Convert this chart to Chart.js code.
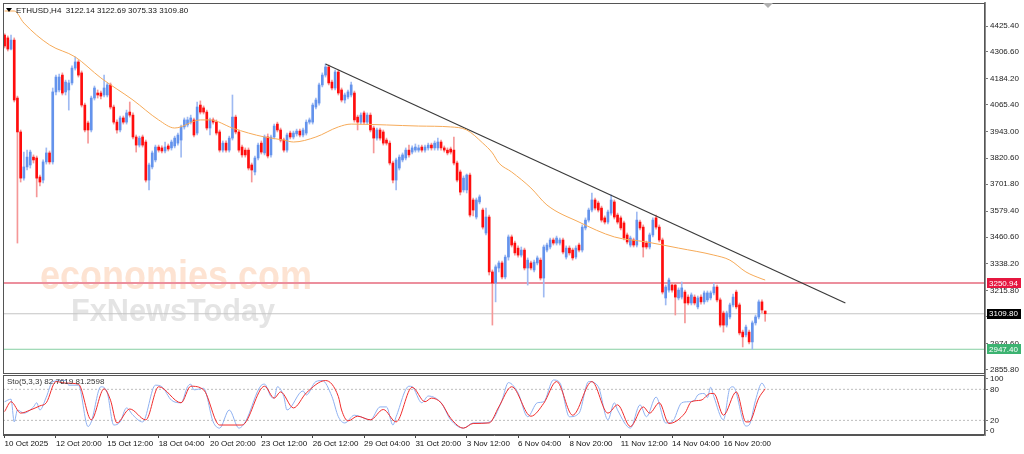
<!DOCTYPE html>
<html>
<head>
<meta charset="utf-8">
<script src="https://cdn.jsdelivr.net/npm/chart.js@4.4.1/dist/chart.umd.min.js"></script>
<style>
  html, body { margin: 0; padding: 0; background: #fff; }
  #wrap { position: relative; width: 1024px; height: 454px; overflow: hidden; background: #fff; }
  #c1 { position: absolute; left: 0; top: 0; }
  #c2 { position: absolute; left: 0; top: 373px; }
</style>
</head>
<body>
<div id="wrap">
  <canvas id="c1" width="1024" height="375"></canvas>
  <canvas id="c2" width="1024" height="81"></canvas>
</div>
<script>
// ETHUSD H4 candles (oldest first)
const opens = [
  4384,4371,4320,4361,4096,3941,3730,3781,3790,3826,
  3822,3735,3721,3804,3845,3804,4124,4133,4201,4124,
  4133,4165,4233,4261,4211,4064,3982,3950,4096,4119,
  4119,4110,4110,4156,4055,3986,3950,4005,3986,4032,
  4018,3918,3881,3918,3895,3721,3781,3813,3872,3868,
  3854,3877,3868,3877,3890,3904,3964,3973,3986,3996,
  3936,4064,4051,4032,3959,3996,3986,3941,3858,3890,
  3858,3913,4009,3941,3872,3858,3858,3790,3758,3822,
  3890,3845,3918,3836,3918,3977,3950,3904,3858,3936,
  3918,3932,3945,3927,3936,3986,3986,4055,4073,4156,
  4201,4238,4169,4142,4215,4133,4087,4101,4110,4119,
  4009,3986,4028,3986,4018,3959,3913,3950,3941,3904,
  3890,3799,3721,3776,3813,3822,3858,3849,3858,3858,
  3872,3858,3868,3881,3868,3868,3895,3868,3858,3863,
  3858,3799,3758,3676,3676,3744,3630,3552,3621,3584,
  3479,3552,3301,3250,3319,3342,3278,3369,3461,3433,
  3410,3378,3401,3319,3342,3310,3342,3355,3273,3401,
  3415,3447,3433,3433,3447,3369,3410,3401,3369,3424,
  3401,3502,3538,3584,3630,3616,3593,3548,3529,3570,
  3621,3561,3548,3525,3470,3424,3447,3424,3529,3506,
  3433,3415,3470,3548,3506,3447,3182,3218,3241,3241,
  3182,3186,3209,3186,3159,3186,3141,3186,3164,3173,
  3182,3205,3232,3173,3113,3058,3095,3150,3209,3150,
  3026,3013,3026,2981,3068,3095,3164,3122.14
]
const highs = [
  4390,4380,4384,4371,4105,3950,3849,3858,3858,3836,
  3831,3744,3813,3868,3854,4142,4201,4206,4211,4178,
  4178,4243,4284,4270,4220,4073,3991,4105,4151,4133,
  4128,4201,4165,4165,4064,3996,4014,4014,4041,4078,
  4028,3927,3922,3927,3904,3799,3854,3881,3881,3877,
  3895,3886,3904,3922,3936,3973,4005,4009,4018,4005,
  4078,4083,4060,4041,4005,4005,3996,3950,3900,3900,
  3922,4110,4018,3950,3881,3868,3868,3799,3831,3890,
  3900,3927,3932,3927,3977,3986,3959,3913,3936,3945,
  3945,3954,3954,3959,3996,4005,4073,4096,4165,4211,
  4252,4247,4178,4224,4224,4142,4119,4133,4169,4128,
  4018,4028,4037,4028,4028,3968,3959,3959,3950,3913,
  3900,3808,3822,3836,3845,3868,3881,3877,3886,3881,
  3881,3881,3890,3890,3900,3913,3904,3877,3868,3872,
  3918,3808,3767,3740,3749,3753,3639,3639,3653,3593,
  3593,3561,3310,3333,3351,3351,3378,3470,3470,3442,
  3420,3415,3410,3365,3351,3355,3374,3365,3424,3433,
  3456,3456,3465,3456,3456,3420,3420,3410,3420,3433,
  3516,3548,3593,3662,3639,3625,3602,3557,3584,3653,
  3630,3570,3557,3534,3479,3465,3456,3575,3538,3516,
  3442,3479,3548,3561,3516,3456,3241,3273,3250,3250,
  3228,3255,3218,3196,3205,3196,3191,3196,3214,3214,
  3214,3250,3241,3182,3122,3122,3159,3200,3218,3159,
  3035,3058,3035,3077,3104,3173,3173,3122.69
]
const lows = [
  4325,4311,4316,4078,3433,3712,3721,3767,3776,3799,
  3644,3694,3708,3794,3794,3794,4110,4124,4110,4110,
  4041,4156,4224,4192,4055,3941,3890,3941,4087,4096,
  4092,4101,4101,4046,3977,3936,3941,3977,3977,4009,
  3909,3849,3872,3872,3712,3676,3772,3804,3849,3845,
  3845,3854,3858,3868,3881,3826,3954,3964,3977,3918,
  3927,4023,4023,3950,3927,3977,3927,3849,3849,3849,
  3849,3904,3932,3849,3826,3826,3767,3712,3744,3813,
  3840,3836,3822,3826,3909,3941,3895,3849,3849,3909,
  3909,3922,3918,3918,3927,3977,3977,4046,4064,4147,
  4192,4156,4133,4133,4110,4078,4073,4092,4101,3986,
  3950,3977,3977,3977,3941,3845,3904,3904,3881,3881,
  3790,3708,3676,3767,3804,3813,3826,3840,3849,3849,
  3849,3849,3858,3858,3858,3858,3858,3849,3836,3840,
  3790,3712,3653,3666,3662,3552,3557,3543,3612,3497,
  3470,3287,3058,3164,3301,3269,3269,3355,3415,3378,
  3369,3369,3310,3241,3310,3301,3333,3264,3186,3392,
  3406,3424,3424,3424,3383,3360,3378,3355,3360,3392,
  3392,3493,3529,3575,3584,3575,3529,3520,3520,3561,
  3543,3520,3493,3447,3429,3415,3415,3415,3493,3369,
  3406,3406,3461,3497,3438,3200,3150,3209,3209,3104,
  3173,3177,3068,3150,3150,3150,3132,3154,3154,3164,
  3173,3196,3164,3049,3026,3049,3086,3141,3132,3013,
  2958,3004,2972,2947.4,3058,3086,3113,3075.33
]
const closes = [
  4334,4320,4361,4087,3941,3730,3781,3826,3849,3813,
  3730,3712,3804,3845,3804,4124,4192,4192,4119,4169,
  4165,4233,4261,4201,4064,3950,3950,4096,4142,4110,
  4105,4142,4156,4055,3986,3950,4005,3986,4028,4018,
  3918,3881,3913,3881,3721,3790,3845,3872,3858,3854,
  3872,3863,3895,3913,3927,3964,3996,3996,4005,3927,
  4055,4032,4032,3959,3996,3986,3936,3858,3890,3858,
  3913,4009,3941,3858,3836,3836,3776,3767,3822,3881,
  3849,3918,3831,3918,3968,3950,3904,3858,3927,3918,
  3936,3945,3927,3950,3986,3996,4064,4087,4156,4201,
  4238,4165,4142,4215,4119,4087,4110,4124,4156,3996,
  3986,4018,3986,4018,3950,3913,3950,3913,3890,3890,
  3799,3721,3813,3826,3836,3858,3836,3868,3872,3868,
  3858,3872,3881,3868,3890,3895,3868,3858,3845,3849,
  3799,3721,3666,3730,3744,3561,3584,3630,3644,3506,
  3552,3301,3250,3324,3342,3278,3369,3461,3424,3388,
  3378,3401,3319,3355,3319,3346,3365,3273,3415,3424,
  3447,3433,3456,3447,3392,3410,3388,3365,3410,3401,
  3506,3538,3584,3630,3593,3584,3538,3529,3575,3630,
  3552,3529,3502,3456,3438,3456,3424,3538,3502,3415,
  3415,3470,3538,3506,3447,3209,3232,3264,3218,3186,
  3218,3228,3159,3159,3196,3159,3182,3164,3205,3205,
  3205,3232,3173,3058,3058,3113,3150,3186,3141,3022,
  3004,3049,2981,3068,3095,3164,3127,3109.80
]

// moving average, [bar index, price]
const maPoints = [
  [0,4494],[3,4494],[6,4439],[14,4339],[22,4284],[30,4188],[40,4087],[48,3996],
  [53,3959],[61,3996],[64,3996],[71,3959],[76,3936],[81,3918],[87,3904],[90,3895],
  [97,3918],[104,3964],[108,3977],[119,3973],[129,3968],[139,3964],[144,3950],
  [149,3890],[152,3845],[154,3799],[158,3758],[164,3685],[169,3607],[179,3529],
  [190,3461],[200,3438],[210,3410],[221,3378],[226,3355],[231,3301],[236,3269],[237,3264]
]

// trend line from the 26 Oct high
const trendPoints = [[100,4252],[262,3159]]

// horizontal price levels
const levelValues = [3250.94, 3109.80, 2947.40]

// stochastic (5,3,3): %K and %D, [bar index, value]
const stoK = [
  [0,56],[2,61],[3,17],[4,40],[6,34],[9,46],[10,54],[11,40],[13,65],[15,95],[19,97],[20,88],
  [23,88],[26,8],[27,17],[30,85],[32,73],[34,11],[36,17],[38,44],[40,30],[43,17],[47,88],
  [49,85],[52,59],[55,54],[57,85],[58,90],[59,79],[62,82],[65,17],[67,5],[70,40],[73,5],
  [75,17],[80,88],[81,90],[83,66],[84,63],[85,85],[87,66],[88,40],[93,77],[94,69],[97,95],
  [99,97],[102,66],[104,27],[106,15],[109,30],[114,21],[117,46],[119,46],[121,11],[122,27],
  [126,86],[127,85],[130,54],[132,67],[136,54],[139,21],[143,5],[146,15],[149,15],[152,21],
  [155,59],[157,93],[160,73],[163,27],[166,54],[168,56],[171,98],[173,93],[176,27],[179,34],
  [182,95],[185,85],[188,21],[190,54],[191,40],[195,5],[198,50],[200,27],[203,65],[206,15],
  [208,17],[211,54],[213,56],[215,59],[216,69],[218,72],[219,64],[220,84],[221,66],[224,21],
  [226,82],[227,85],[231,9],[232,11],[234,59],[236,92],[237,83]
]
const stoD = [
  [0,37],[2,56],[5,34],[8,40],[11,48],[13,54],[16,95],[19,92],[23,90],[27,21],[31,81],
  [33,59],[35,15],[39,42],[44,21],[48,85],[55,54],[58,86],[62,79],[67,11],[74,11],[81,86],
  [84,63],[86,75],[90,44],[94,73],[100,97],[104,66],[105,40],[107,19],[110,28],[114,21],
  [118,41],[122,17],[127,84],[131,56],[133,63],[136,54],[139,24],[143,5],[146,14],[151,15],
  [154,46],[158,85],[164,28],[168,53],[172,95],[177,30],[183,95],[188,34],[191,50],[195,8],
  [199,46],[201,34],[204,54],[207,14],[212,34],[214,56],[217,59],[220,72],[221,72],[224,30],
  [228,75],[231,17],[232,17],[235,63],[237,81]
]
const stoLevels = [20, 80]

// axis ticks
const priceTicks = [4425.40,4306.60,4184.20,4065.40,3943.00,3820.60,3701.80,3579.40,3460.60,3338.20,3215.80,3097.00,2974.60,2855.80]
const stoTicks = [0, 20, 80, 100]
const timeTickIdx = [0,16,32,48,64,80,96,112,128,144,160,176,192,208,224]
const timeLabels = ['10 Oct 2025','12 Oct 20:00','15 Oct 12:00','18 Oct 04:00','20 Oct 20:00','23 Oct 12:00','26 Oct 12:00','29 Oct 04:00','31 Oct 20:00','3 Nov 12:00','6 Nov 04:00','8 Nov 20:00','11 Nov 12:00','14 Nov 04:00','16 Nov 20:00']

const SLOTS = 306
const X_MIN = -0.5, X_MAX = SLOTS - 0.5
const FONT = '"Liberation Sans", Arial, sans-serif'
const AXIS_W = 39

const pts = arr => arr.map(p => ({ x: p[0], y: p[1] }))
const isUp = i => closes[i] >= opens[i]
const levelStyle = [
  { line: '#ec8f9d', width: 2, tag: '#e5173f' },
  { line: '#c4c4c4', width: 1, tag: '#000000' },
  { line: '#86cfa3', width: 1, tag: '#3cb371' }
]

// no label padding: plot area must reach the frame edges
const noPad = s => { s.paddingTop = 0; s.paddingBottom = 0; s.paddingLeft = 0; s.paddingRight = 0 }

function fitText(ctx, text, x, y, w, font, color) {
  ctx.save()
  ctx.font = font
  ctx.fillStyle = color
  ctx.textBaseline = 'alphabetic'
  const m = ctx.measureText(text).width
  ctx.translate(x, y)
  ctx.scale(w / m, 1)
  ctx.fillText(text, 0, 0)
  ctx.restore()
}

const priceDecor = {
  id: 'priceDecor',
  beforeDatasetsDraw(chart) {
    const { ctx } = chart
    fitText(ctx, 'economies.com', 40, 289, 272, 'bold 40px ' + FONT, 'rgba(248,170,118,0.33)')
    fitText(ctx, 'FxNewsToday', 71, 321, 204, 'bold 31px ' + FONT, 'rgba(150,150,150,0.26)')
  },
  afterDraw(chart) {
    const { ctx, chartArea: a, scales: { y } } = chart
    ctx.save()
    ctx.strokeStyle = '#555'
    ctx.lineWidth = 1
    ctx.strokeRect(a.left + 0.5, a.top + 0.5, a.right - a.left - 1, a.bottom - a.top)

    // symbol line
    ctx.fillStyle = '#000'
    ctx.beginPath()
    ctx.moveTo(6, 8); ctx.lineTo(12, 8); ctx.lineTo(9, 12); ctx.closePath(); ctx.fill()
    ctx.font = '8px ' + FONT
    ctx.textBaseline = 'middle'
    ctx.textAlign = 'left'
    ctx.fillStyle = '#111'
    ctx.fillText('ETHUSD,H4  3122.14 3122.69 3075.33 3109.80', 16, 10.5)

    // chart shift marker
    ctx.fillStyle = '#b0b0b0'
    ctx.beginPath()
    ctx.moveTo(763, 3); ctx.lineTo(773, 3); ctx.lineTo(768, 8); ctx.closePath(); ctx.fill()

    // price tags on the axis
    levelValues.forEach((v, k) => {
      const py = y.getPixelForValue(v)
      ctx.fillStyle = levelStyle[k].tag
      ctx.fillRect(a.right + 2, Math.round(py) - 5, 34, 10)
      ctx.fillStyle = '#fff'
      ctx.fillText(v.toFixed(2), a.right + 4, py + 0.5)
    })
    ctx.restore()
  }
}

const stoDecor = {
  id: 'stoDecor',
  afterDraw(chart) {
    const { ctx, chartArea: a } = chart
    ctx.save()
    ctx.strokeStyle = '#555'
    ctx.lineWidth = 1
    ctx.strokeRect(a.left + 0.5, a.top + 0.5, a.right - a.left - 1, a.bottom - a.top - 1)
    ctx.fillStyle = '#333'
    ctx.font = '8px ' + FONT
    ctx.textBaseline = 'middle'
    ctx.fillText('Sto(5,3,3) 82.7619 81.2598', 7, a.top + 6.5)
    ctx.restore()
  }
}

Chart.defaults.font.family = FONT
Chart.defaults.font.size = 8
Chart.defaults.color = '#111'

const bars = opens.map((_, i) => i)

new Chart(document.getElementById('c1'), {
  type: 'bar',
  data: {
    datasets: [
      { type: 'line', label: 'MA', data: pts(maPoints), borderColor: '#f6aa58', borderWidth: 1, pointRadius: 0, cubicInterpolationMode: 'monotone', order: 0 },
      { type: 'line', label: 'trend', data: pts(trendPoints), borderColor: '#3a3a3a', borderWidth: 1.2, pointRadius: 0, order: 1 },
      { label: 'bodies', data: bars.map(i => ({ x: i, y: [opens[i], closes[i]] })), backgroundColor: c => isUp(c.dataIndex) ? '#6493ec' : '#ff0d0d', barThickness: 2, minBarLength: 1, grouped: false, order: 2 },
      { label: 'wicks', data: bars.map(i => ({ x: i, y: [lows[i], highs[i]] })), backgroundColor: c => isUp(c.dataIndex) ? '#9fbaf2' : '#f59797', barThickness: 1, grouped: false, order: 3 },
      ...levelValues.map((v, k) => ({
        type: 'line', label: 'level' + k, data: [{ x: X_MIN, y: v }, { x: X_MAX, y: v }],
        borderColor: levelStyle[k].line, borderWidth: levelStyle[k].width, pointRadius: 0, order: 5
      }))
    ]
  },
  options: {
    responsive: false,
    animation: false,
    events: [],
    layout: { padding: { left: 3, top: 3, right: 0, bottom: 2 } },
    plugins: { legend: { display: false }, tooltip: { enabled: false } },
    scales: {
      x: { type: 'linear', min: X_MIN, max: X_MAX, offset: false, display: false },
      y: {
        position: 'right', min: 2838.9, max: 4530.6,
        afterBuildTicks: s => { s.ticks = priceTicks.map(v => ({ value: v })) },
        afterFit: s => { s.width = AXIS_W; noPad(s) },
        ticks: { autoSkip: false, padding: 2, color: '#222', callback: v => v.toFixed(2) },
        grid: { drawOnChartArea: false, tickLength: 3, color: '#777' },
        border: { color: '#8a8a8a', width: 2 }
      }
    }
  },
  plugins: [priceDecor]
})

new Chart(document.getElementById('c2'), {
  type: 'line',
  data: {
    datasets: [
      { label: '%K', data: pts(stoK), borderColor: '#8fb1f1', borderWidth: 1, pointRadius: 0, cubicInterpolationMode: 'monotone', order: 1 },
      { label: '%D', data: pts(stoD), borderColor: '#f02c2c', borderWidth: 1, pointRadius: 0, cubicInterpolationMode: 'monotone', order: 0 },
      ...stoLevels.map(v => ({
        label: 'lvl' + v, data: [{ x: X_MIN, y: v }, { x: X_MAX, y: v }],
        borderColor: '#bdbdbd', borderWidth: 1, borderDash: [2, 2], pointRadius: 0, order: 5
      }))
    ]
  },
  options: {
    responsive: false,
    animation: false,
    events: [],
    layout: { padding: { left: 3, top: 2, right: 0, bottom: 0 } },
    plugins: { legend: { display: false }, tooltip: { enabled: false } },
    scales: {
      x: {
        type: 'linear', min: X_MIN, max: X_MAX, offset: false,
        afterBuildTicks: s => { s.ticks = timeTickIdx.map(v => ({ value: v })) },
        afterFit: s => { s.height = 19; noPad(s) },
        ticks: { autoSkip: false, maxRotation: 0, align: 'start', padding: 1, color: '#111', callback: v => timeLabels[timeTickIdx.indexOf(v)] },
        grid: { drawOnChartArea: false, tickLength: 3, color: '#444' },
        border: { color: '#555' }
      },
      y: {
        position: 'right', min: -8.3, max: 107.7,
        afterBuildTicks: s => { s.ticks = stoTicks.map(v => ({ value: v })) },
        afterFit: s => { s.width = AXIS_W; noPad(s) },
        ticks: { autoSkip: false, padding: 2, color: '#222' },
        grid: { drawOnChartArea: false, tickLength: 3, color: '#777' },
        border: { color: '#8a8a8a', width: 2 }
      }
    }
  },
  plugins: [stoDecor]
})
</script>
</body>
</html>
